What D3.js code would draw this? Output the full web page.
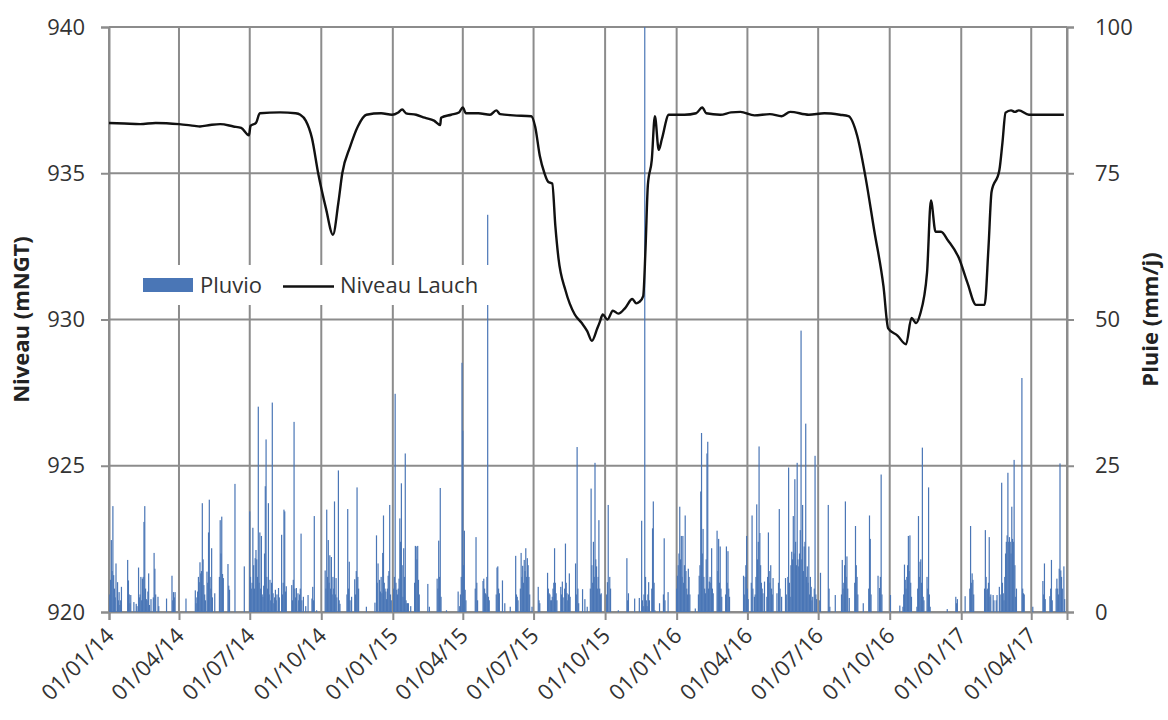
<!DOCTYPE html>
<html lang='fr'>
<head>
  <meta charset='UTF-8'>
  <title>Niveau Lauch et pluviométrie</title>
  <style>
  body {
    margin: 0;
    background: #fff;
  }
  text {
    font-family: 'Open Sans', sans-serif;
    fill: #333;
  }
  .tick text {
    font-size: 22px;
  }
  .title {
    font-size: 22px;
    font-weight: bold;
    fill: #222;
  }
  .legend text {
    font-size: 22px;
  }
  </style>
  <script src="https://cdnjs.cloudflare.com/ajax/libs/d3/7.8.5/d3.min.js"></script>
</head>
<body>
  <script>

  // niveau du lac (mNGT)
  var niveauLauch = [
    ['2014-01-01', 936.72], ['2014-01-21', 936.70], ['2014-02-10', 936.68], ['2014-03-02', 936.72],
    ['2014-04-01', 936.68], ['2014-04-21', 936.62], ['2014-04-28', 936.60], ['2014-05-11', 936.65],
    ['2014-05-24', 936.68], ['2014-06-10', 936.60], ['2014-06-20', 936.55], ['2014-06-30', 936.30],
    ['2014-07-02', 936.62], ['2014-07-09', 936.72], ['2014-07-14', 937.05], ['2014-08-09', 937.08],
    ['2014-08-29', 937.05], ['2014-09-04', 937.00], ['2014-09-11', 936.80], ['2014-09-19', 936.20],
    ['2014-09-27', 935.00], ['2014-10-07', 933.80], ['2014-10-16', 932.90], ['2014-10-23', 934.00],
    ['2014-10-28', 935.00], ['2014-11-07', 935.90], ['2014-11-17', 936.60], ['2014-11-28', 937.00],
    ['2014-12-17', 937.05], ['2014-12-31', 937.00], ['2015-01-08', 937.08], ['2015-01-13', 937.18],
    ['2015-01-18', 937.05], ['2015-01-31', 937.00], ['2015-02-11', 936.90], ['2015-02-23', 936.80],
    ['2015-03-03', 936.65], ['2015-03-04', 936.90], ['2015-03-17', 937.00], ['2015-03-27', 937.08],
    ['2015-04-01', 937.25], ['2015-04-05', 937.05], ['2015-04-21', 937.05], ['2015-05-06', 937.00],
    ['2015-05-14', 937.15], ['2015-05-19', 937.02], ['2015-06-05', 936.98], ['2015-06-28', 936.95],
    ['2015-07-03', 936.60], ['2015-07-09', 935.60], ['2015-07-15', 935.00], ['2015-07-20', 934.70],
    ['2015-07-25', 934.65], ['2015-07-29', 933.20], ['2015-08-02', 932.10], ['2015-08-11', 931.00],
    ['2015-08-23', 930.17], ['2015-09-01', 929.88], ['2015-09-08', 929.60], ['2015-09-14', 929.27],
    ['2015-09-21', 929.70], ['2015-09-24', 929.90], ['2015-09-28', 930.17], ['2015-10-04', 930.00],
    ['2015-10-11', 930.30], ['2015-10-18', 930.20], ['2015-10-27', 930.40], ['2015-11-05', 930.70],
    ['2015-11-10', 930.55], ['2015-11-14', 930.60], ['2015-11-19', 930.80], ['2015-11-22', 932.45],
    ['2015-11-25', 934.60], ['2015-11-30', 935.45], ['2015-12-04', 936.95], ['2015-12-09', 935.80],
    ['2015-12-13', 936.17], ['2015-12-22', 937.00], ['2016-01-11', 937.00], ['2016-01-26', 937.05],
    ['2016-02-03', 937.25], ['2016-02-08', 937.05], ['2016-02-26', 937.00], ['2016-03-11', 937.08],
    ['2016-03-23', 937.10], ['2016-04-10', 936.98], ['2016-04-30', 937.02], ['2016-05-15', 936.95],
    ['2016-05-26', 937.10], ['2016-06-19', 937.00], ['2016-07-09', 937.05], ['2016-07-29', 937.00],
    ['2016-08-09', 936.95], ['2016-08-20', 936.30], ['2016-08-31', 934.85], ['2016-09-11', 933.06],
    ['2016-09-23', 931.13], ['2016-09-29', 929.70], ['2016-10-11', 929.45], ['2016-10-22', 929.15],
    ['2016-10-29', 930.05], ['2016-11-04', 929.88], ['2016-11-09', 930.17], ['2016-11-18', 931.60],
    ['2016-11-23', 934.07], ['2016-11-29', 933.00], ['2016-12-06', 933.00], ['2016-12-15', 932.70],
    ['2016-12-29', 932.10], ['2017-01-09', 931.25], ['2017-01-20', 930.50], ['2017-01-31', 930.50],
    ['2017-02-05', 932.45], ['2017-02-09', 934.37], ['2017-02-19', 935.10], ['2017-02-23', 936.05],
    ['2017-02-27', 937.07], ['2017-03-06', 937.15], ['2017-03-11', 937.10], ['2017-03-16', 937.15],
    ['2017-03-29', 937.00], ['2017-05-13', 937.00]
  ];

  // pluie journalière (mm/j) : [jour de l'année (0 = 1er janvier), mm]
  var pluie2014 = [
    [3, 12.3], [5, 18.1], [6, 6.3], [9, 8.3], [11, 5.1], [13, 3.4], [16, 4.3], [24, 8.9], [25, 5.4],
    [28, 2.9], [32, 1.7], [35, 1.4], [38, 7.6], [41, 6.0], [43, 5.7], [45, 15.4], [46, 18.1], [48, 2.2],
    [51, 6.6], [54, 2.2], [58, 10.1], [59, 7.4], [63, 2.6], [74, 2.3], [81, 6.2], [83, 3.4], [85, 3.4],
    [99, 2.3], [111, 3.7], [116, 5.1], [118, 6.6], [120, 18.6], [122, 4.6], [126, 6.9], [128, 13.6],
    [129, 19.2], [132, 10.9], [136, 3.2], [143, 15.7], [145, 16.3], [147, 5.8], [153, 8.2], [155, 3.8],
    [162, 21.9], [174, 7.8], [181, 17.2], [183, 4.0], [185, 14.4], [188, 9.2], [189, 10.6], [192, 35.1],
    [194, 13.6], [196, 13.0], [198, 2.6], [201, 21.5], [202, 29.5], [205, 18.6], [207, 5.5], [210, 35.8],
    [211, 3.2], [214, 3.8], [218, 4.1], [222, 13.2], [225, 17.5], [226, 17.2], [228, 4.4], [235, 4.6],
    [238, 32.5], [239, 4.0], [241, 4.1], [243, 3.2], [247, 13.4], [250, 2.6], [253, 1.0], [256, 2.9],
    [261, 2.3], [262, 4.3], [264, 16.4], [267, 0.3], [278, 7.1], [280, 17.5], [282, 12.3], [284, 9.7],
    [286, 9.4], [290, 18.9], [292, 5.8], [295, 24.2], [297, 1.4], [307, 17.6], [309, 8.6], [312, 2.6],
    [316, 5.6], [319, 21.3], [321, 4.0], [331, 0.9], [342, 1.6], [344, 13.1], [346, 8.3], [348, 5.5],
    [351, 3.2], [352, 10.1], [353, 16.5], [355, 4.0], [357, 2.2], [359, 6.2], [361, 18.3], [363, 2.0],
    [1, 3.0], [2, 5.5], [4, 7.0], [7, 4.0], [8, 2.5], [12, 2.0], [14, 1.2], [15, 2.0], [26, 3.0],
    [27, 1.5], [36, 1.0], [39, 2.5], [40, 3.0], [42, 2.0], [44, 6.0], [47, 4.0], [49, 2.0], [50, 3.5],
    [52, 1.2], [57, 2.5], [60, 3.0], [64, 1.0], [82, 2.0], [84, 2.5], [112, 1.5], [113, 2.5], [114, 3.5],
    [115, 6.0], [117, 8.5], [119, 7.0], [121, 9.0], [123, 3.0], [124, 2.0], [127, 5.0], [130, 6.0],
    [131, 4.0], [133, 2.5], [142, 6.0], [144, 10.0], [146, 6.5], [154, 4.5], [182, 6.0], [184, 5.0],
    [186, 8.0], [187, 4.0], [190, 9.0], [191, 6.0], [193, 5.0], [195, 4.0], [197, 3.0], [199, 4.5],
    [200, 10.0], [203, 6.0], [204, 4.0], [206, 3.0], [208, 2.0], [209, 5.0], [212, 1.5], [213, 2.5],
    [215, 2.0], [216, 3.0], [219, 2.5], [223, 3.0], [224, 5.0], [227, 3.5], [236, 2.0], [237, 5.5],
    [240, 2.5], [244, 2.0], [245, 3.0], [246, 4.0], [248, 2.0], [263, 2.0], [279, 4.0], [281, 6.0],
    [283, 5.0], [285, 4.0], [287, 3.0], [288, 6.0], [289, 4.0], [291, 3.0], [293, 2.5], [296, 2.0],
    [306, 3.0], [308, 4.0], [310, 2.0], [317, 3.0], [318, 7.0], [320, 6.0], [345, 5.0], [349, 3.5],
    [350, 6.0], [354, 5.0], [356, 3.5], [358, 4.0], [360, 7.0], [362, 3.0]
  ];

  var pluie2015 = [
    [3, 37.3], [5, 3.8], [8, 5.7], [9, 16.0], [11, 22.0], [13, 2.6], [14, 10.9], [16, 27.1], [18, 1.5],
    [20, 1.5], [23, 1.0], [29, 11.3], [30, 11.2], [32, 11.3], [33, 5.5], [45, 4.8], [47, 0.9], [57, 5.7],
    [59, 12.2], [61, 21.2], [62, 2.6], [69, 0.3], [84, 3.5], [86, 1.0], [89, 42.6], [90, 31.0], [92, 13.9],
    [93, 3.8], [107, 12.8], [109, 2.0], [116, 5.3], [117, 5.7], [119, 3.2], [122, 67.9], [123, 2.6],
    [134, 7.6], [135, 7.8], [137, 3.2], [141, 5.4], [144, 1.5], [151, 0.9], [158, 9.6], [160, 2.6],
    [165, 10.1], [167, 7.9], [169, 8.9], [171, 10.9], [173, 9.2], [175, 6.0], [179, 0.9], [187, 4.3],
    [189, 1.5], [199, 6.7], [201, 3.2], [204, 2.0], [205, 2.6], [208, 10.9], [210, 3.2], [216, 4.3],
    [218, 5.2], [222, 11.7], [224, 3.2], [227, 6.6], [228, 2.6], [235, 8.3], [237, 28.2], [239, 1.5],
    [244, 3.9], [247, 2.2], [250, 0.9], [255, 21.1], [258, 12.0], [260, 25.5], [262, 7.8], [265, 15.7],
    [268, 3.2], [276, 5.1], [277, 18.3], [280, 4.0], [290, 0.3], [301, 9.2], [303, 3.2], [311, 2.3],
    [317, 2.4], [320, 15.6], [322, 1.0], [324, 100], [327, 1.0], [329, 5.1], [334, 14.3], [335, 18.9],
    [337, 0.3], [343, 1.5], [349, 12.6], [354, 3.4],
    [1, 4.0], [2, 6.0], [4, 5.0], [6, 3.0], [7, 4.0], [10, 12.0], [12, 8.0], [15, 6.0], [17, 2.0],
    [19, 1.5], [28, 5.0], [31, 9.0], [34, 3.0], [58, 4.0], [60, 6.0], [87, 3.0], [88, 6.0], [91, 8.0],
    [94, 2.0], [106, 4.0], [108, 5.0], [118, 4.0], [120, 3.0], [121, 6.0], [124, 2.0], [133, 3.0],
    [136, 4.0], [159, 3.0], [161, 2.0], [164, 4.0], [166, 6.0], [168, 5.0], [170, 7.0], [172, 6.0],
    [174, 8.0], [176, 3.0], [188, 2.0], [200, 4.0], [202, 3.0], [203, 2.0], [206, 4.0], [207, 5.0],
    [209, 5.0], [211, 2.0], [217, 3.0], [219, 2.5], [221, 4.0], [223, 5.0], [225, 2.0], [226, 3.0],
    [236, 3.0], [238, 4.0], [254, 4.0], [256, 8.0], [257, 5.0], [259, 6.0], [261, 9.0], [263, 4.0],
    [264, 6.0], [266, 4.0], [267, 3.0], [275, 3.0], [279, 6.0], [302, 2.0], [321, 2.0], [323, 3.0],
    [325, 6.0], [326, 2.0], [328, 3.0], [330, 2.0], [333, 4.0], [336, 5.0], [348, 3.0], [350, 2.0]
  ];

  var pluie2016 = [
    [1, 6.2], [4, 18.0], [6, 13.0], [8, 13.0], [11, 16.5], [13, 4.0], [15, 7.4], [16, 6.0], [24, 0.6],
    [29, 6.2], [31, 20.6], [32, 30.6], [34, 14.2], [37, 3.2], [39, 27.1], [40, 29.1], [42, 5.2], [45, 10.9],
    [47, 3.2], [52, 13.9], [54, 12.5], [56, 11.2], [58, 2.6], [64, 11.2], [66, 10.4], [68, 2.6], [86, 6.2],
    [88, 6.0], [90, 13.0], [92, 2.2], [97, 16.5], [100, 2.6], [103, 18.4], [106, 28.3], [107, 13.5],
    [111, 3.2], [113, 5.2], [116, 2.6], [118, 13.6], [121, 8.0], [124, 5.8], [129, 3.2], [132, 17.6],
    [135, 2.6], [140, 5.8], [144, 24.7], [146, 2.6], [148, 10.3], [150, 16.4], [152, 22.7], [155, 25.5],
    [157, 7.8], [160, 48.1], [162, 18.3], [164, 11.2], [166, 32.2], [168, 7.8], [170, 11.2], [173, 4.3],
    [175, 2.6], [178, 26.7], [180, 2.2], [185, 6.7], [195, 18.3], [197, 0.9], [204, 2.9], [213, 8.9],
    [217, 18.9], [219, 9.5], [222, 2.4], [230, 14.7], [232, 6.0], [240, 1.5], [248, 16.5], [249, 12.5],
    [259, 6.2], [261, 4.1], [263, 23.5], [275, 2.9], [287, 1.1], [291, 0.9], [293, 8.1], [294, 5.5],
    [298, 13.0], [300, 13.1], [302, 2.6], [309, 0.9], [311, 16.4], [313, 8.6], [316, 28.1], [317, 2.6],
    [322, 6.0], [324, 21.3], [326, 0.9], [348, 0.5], [359, 2.6], [361, 2.2],
    [0, 4.0], [2, 8.0], [3, 10.0], [5, 9.0], [7, 6.0], [9, 5.0], [10, 8.0], [12, 7.0], [14, 3.0],
    [17, 3.0], [28, 3.0], [30, 8.0], [33, 10.0], [35, 6.0], [36, 4.0], [38, 9.0], [41, 4.0], [43, 6.0],
    [44, 5.0], [46, 4.0], [53, 7.0], [55, 5.0], [57, 4.0], [63, 3.0], [65, 5.0], [67, 4.0], [87, 3.0],
    [89, 8.0], [91, 4.0], [96, 5.0], [98, 4.0], [101, 3.0], [102, 6.0], [104, 9.0], [105, 12.0],
    [108, 8.0], [109, 5.0], [110, 4.0], [117, 6.0], [119, 7.0], [120, 5.0], [122, 4.0], [123, 3.0],
    [131, 5.0], [133, 4.0], [141, 3.0], [143, 6.0], [145, 5.0], [147, 8.0], [149, 9.0], [151, 10.0],
    [153, 12.0], [154, 8.0], [156, 9.0], [158, 10.0], [159, 14.0], [161, 9.0], [163, 7.0], [165, 12.0],
    [167, 6.0], [169, 5.0], [171, 3.0], [172, 6.0], [174, 2.0], [177, 4.0], [179, 3.0], [184, 2.0],
    [196, 4.0], [212, 3.0], [214, 4.0], [215, 5.0], [216, 8.0], [218, 6.0], [220, 4.0], [229, 5.0],
    [231, 8.0], [233, 3.0], [247, 4.0], [250, 3.0], [262, 6.0], [264, 3.0], [292, 3.0], [295, 4.0],
    [296, 6.0], [297, 8.0], [299, 7.0], [301, 5.0], [310, 4.0], [312, 6.0], [314, 9.0], [315, 5.0],
    [318, 2.0], [323, 4.0], [325, 3.0], [360, 1.5]
  ];

  var pluie2017 = [
    [5, 2.7], [12, 14.7], [14, 6.6], [15, 5.5], [31, 14.0], [33, 3.8], [36, 12.8], [37, 2.6], [41, 2.9],
    [46, 2.9], [49, 4.3], [52, 22.1], [54, 3.2], [59, 13.1], [60, 23.8], [62, 12.8], [65, 18.0], [66, 12.5],
    [68, 26.0], [70, 2.6], [78, 40.0], [80, 3.2], [92, 0.9], [105, 5.3], [107, 8.3], [108, 2.2], [114, 2.7],
    [116, 8.9], [122, 4.0], [123, 5.7], [126, 7.4], [127, 25.4], [128, 7.1], [132, 7.8], [133, 2.2],
    [11, 4.0], [13, 5.0], [16, 3.0], [30, 4.0], [32, 6.0], [34, 4.0], [35, 5.0], [38, 3.0], [42, 2.0],
    [45, 2.0], [50, 3.0], [53, 5.0], [55, 2.0], [56, 6.0], [57, 10.0], [58, 12.0], [61, 12.0], [63, 12.0],
    [64, 10.0], [67, 12.0], [69, 8.0], [71, 4.0], [79, 4.0], [81, 3.0], [106, 3.0], [115, 4.0], [117, 2.0],
    [124, 4.0], [125, 3.0], [129, 6.0], [130, 4.0]
  ];

  var niveauTicks = [920, 925, 930, 935, 940];
  var pluieTicks = [0, 25, 50, 75, 100];
  var dateStart = '2014-01-01';
  var dateEnd = '2017-05-17';

  var svgWidth = 1168;
  var svgHeight = 720;
  var margin = { top: 27, right: 101, bottom: 108, left: 109 };
  var width = svgWidth - margin.left - margin.right;
  var height = svgHeight - margin.top - margin.bottom;

  var parseDate = d3.timeParse('%Y-%m-%d');
  var gridColor = '#8c8c8c';
  var barColor = '#4a76b6';

  var svg = d3.select('body').append('svg')
    .attr('width', svgWidth)
    .attr('height', svgHeight);

  var g = svg.append('g').attr('transform', 'translate(' + margin.left + ',' + margin.top + ')');

  var x = d3.scaleTime().domain([parseDate(dateStart), parseDate(dateEnd)]).range([0, width]);
  var y = d3.scaleLinear().domain([920, 940]).range([height, 0]);
  var y2 = d3.scaleLinear().domain([0, 100]).range([height, 0]);

  // rain records → {date, mm}
  var pluie = [];
  [[2014, pluie2014], [2015, pluie2015], [2016, pluie2016], [2017, pluie2017]].forEach(function (yr) {
    yr[1].forEach(function (d) {
      pluie.push({ date: d3.timeDay.offset(new Date(yr[0], 0, 1), d[0]), mm: d[1] });
    });
  });

  var niveau = niveauLauch.map(function (d) { return { date: parseDate(d[0]), z: d[1] }; });

  var xTicks = x.ticks(d3.timeMonth.every(3));

  // gridlines

  g.append('g').attr('class', 'grid')
   .selectAll('line')
   .data(xTicks.concat([x.domain()[1]]))
   .enter().append('line')
   .attr('x1', function (d) { return x(d); })
   .attr('x2', function (d) { return x(d); })
   .attr('y1', 0)
   .attr('y2', height)
   .attr('stroke', gridColor)
   .attr('stroke-width', 2);

  g.append('g').attr('class', 'grid')
   .selectAll('line')
   .data(niveauTicks)
   .enter().append('line')
   .attr('x1', 0)
   .attr('x2', width)
   .attr('y1', function (d) { return y(d); })
   .attr('y2', function (d) { return y(d); })
   .attr('stroke', gridColor)
   .attr('stroke-width', 2);

  // axes

  var xAxis = g.append('g')
   .attr('transform', 'translate(0,' + height + ')')
   .call(d3.axisBottom(x).tickValues(xTicks).tickSize(8).tickFormat(d3.timeFormat('%d/%m/%y')));

  xAxis.selectAll('text')
   .attr('text-anchor', 'end')
   .attr('dy', 0)
   .attr('y', 0)
   .attr('transform', 'translate(6,25) rotate(-45)');

  var yAxis = g.append('g')
   .call(d3.axisLeft(y).tickValues(niveauTicks).tickSize(8).tickPadding(16).tickFormat(d3.format('d')));

  var y2Axis = g.append('g')
   .attr('transform', 'translate(' + width + ',0)')
   .call(d3.axisRight(y2).tickValues(pluieTicks).tickSize(7).tickPadding(21));

  [xAxis, yAxis, y2Axis].forEach(function (a) {
    a.select('.domain').attr('stroke', gridColor).attr('stroke-width', 2);
    a.selectAll('.tick line').attr('stroke', gridColor).attr('stroke-width', 2);
    a.selectAll('.tick text').attr('fill', '#333').style('font-family', "'Open Sans', sans-serif");
  });

  // rain bars

  g.append('g')
   .selectAll('rect')
   .data(pluie)
   .enter().append('rect')
   .attr('x', function (d) { return x(d.date) - 0.6; })
   .attr('y', function (d) { return y2(d.mm); })
   .attr('width', 1.2)
   .attr('height', function (d) { return height - y2(d.mm); })
   .attr('fill', barColor);

  // level line

  g.append('path')
   .datum(niveau)
   .attr('fill', 'none')
   .attr('stroke', '#111')
   .attr('stroke-width', 2.4)
   .attr('stroke-linejoin', 'round')
   .attr('d', d3.line()
     .curve(d3.curveMonotoneX)
     .x(function (d) { return x(d.date); })
     .y(function (d) { return y(d.z); }));

  // axis titles

  svg.append('text')
   .attr('class', 'title')
   .attr('text-anchor', 'middle')
   .attr('transform', 'translate(29,' + (margin.top + height / 2) + ') rotate(-90)')
   .text('Niveau (mNGT)');

  svg.append('text')
   .attr('class', 'title')
   .attr('text-anchor', 'middle')
   .attr('transform', 'translate(1158,' + (margin.top + height / 2) + ') rotate(-90)')
   .text('Pluie (mm/j)');

  // legend

  var legend = svg.append('g').attr('class', 'legend');

  legend.append('rect')
   .attr('x', 136)
   .attr('y', 265)
   .attr('width', 354)
   .attr('height', 40)
   .attr('fill', '#fff');

  legend.append('rect')
   .attr('x', 143)
   .attr('y', 278)
   .attr('width', 50)
   .attr('height', 14)
   .attr('fill', barColor);

  legend.append('text')
   .attr('x', 200)
   .attr('y', 293)
   .text('Pluvio');

  legend.append('line')
   .attr('x1', 283)
   .attr('x2', 334)
   .attr('y1', 286.5)
   .attr('y2', 286.5)
   .attr('stroke', '#111')
   .attr('stroke-width', 2.4);

  legend.append('text')
   .attr('x', 340)
   .attr('y', 293)
   .text('Niveau Lauch');
  </script>
</body>
</html>
